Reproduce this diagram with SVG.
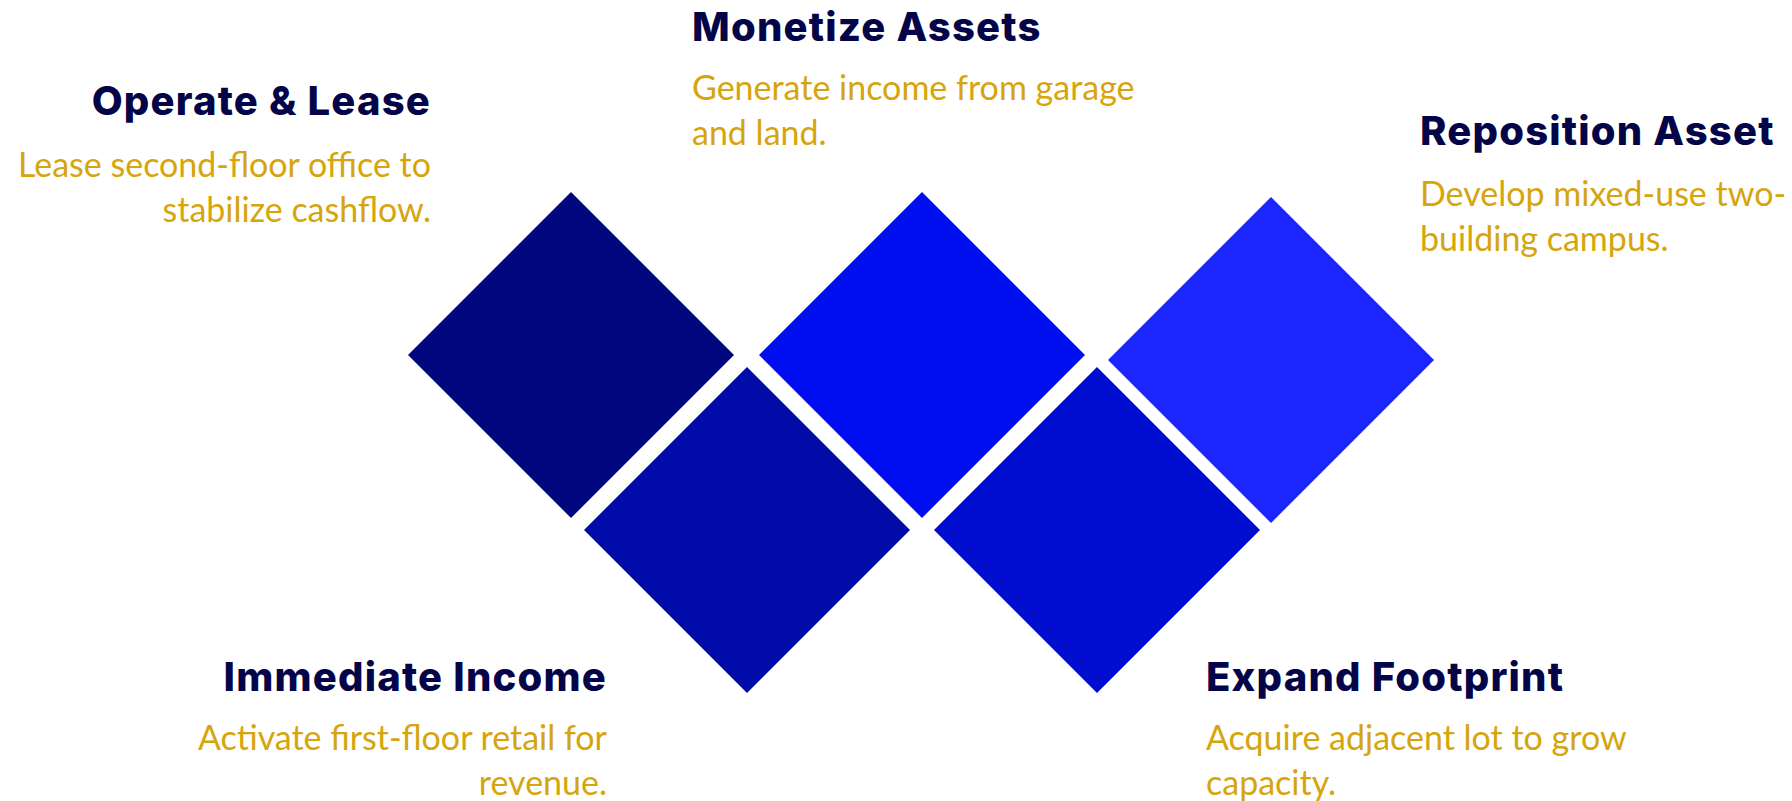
<svg xmlns="http://www.w3.org/2000/svg" width="1792" height="801" viewBox="0 0 1792 801">
  <style>
    .title { font-family: Inter, "Liberation Sans", sans-serif; font-weight: 800; font-size: 40px; letter-spacing: 1.2px; fill: #040548; }
    .desc { font-family: Lato, "Liberation Sans", sans-serif; font-weight: 400; font-size: 34px; fill: #d6a50c; }
    .end { text-anchor: end; }
  </style>
  <rect width="1792" height="801" fill="#ffffff"/>

  <g id="diamonds">
    <polygon id="d-operate" points="571,192 734,355 571,518 408,355" fill="#00077e"/>
    <polygon id="d-immediate" points="747,367 910,530 747,693 584,530" fill="#000ba8"/>
    <polygon id="d-monetize" points="922,192 1085,355 922,518 759,355" fill="#000ff0"/>
    <polygon id="d-expand" points="1097,367 1260,530 1097,693 934,530" fill="#000dcf"/>
    <polygon id="d-reposition" points="1271,197 1434,360 1271,523 1108,360" fill="#1b26ff"/>
  </g>

  <g id="operate-lease">
    <text class="title end" x="431" y="115">Operate &amp; Lease</text>
    <text class="desc end" x="431" y="177">Lease second-floor office to</text>
    <text class="desc end" x="431" y="222">stabilize cashflow.</text>
  </g>

  <g id="monetize-assets">
    <text class="title" x="692" y="41">Monetize Assets</text>
    <text class="desc" x="692" y="100">Generate income from garage</text>
    <text class="desc" x="692" y="145">and land.</text>
  </g>

  <g id="reposition-asset">
    <text class="title" x="1420" y="145">Reposition Asset</text>
    <text class="desc" x="1420" y="206">Develop mixed-use two-</text>
    <text class="desc" x="1420" y="251">building campus.</text>
  </g>

  <g id="immediate-income">
    <text class="title end" x="607" y="691">Immediate Income</text>
    <text class="desc end" x="607" y="750">Activate first-floor retail for</text>
    <text class="desc end" x="607" y="795">revenue.</text>
  </g>

  <g id="expand-footprint">
    <text class="title" x="1206" y="691">Expand Footprint</text>
    <text class="desc" x="1206" y="750">Acquire adjacent lot to grow</text>
    <text class="desc" x="1206" y="795">capacity.</text>
  </g>
</svg>
